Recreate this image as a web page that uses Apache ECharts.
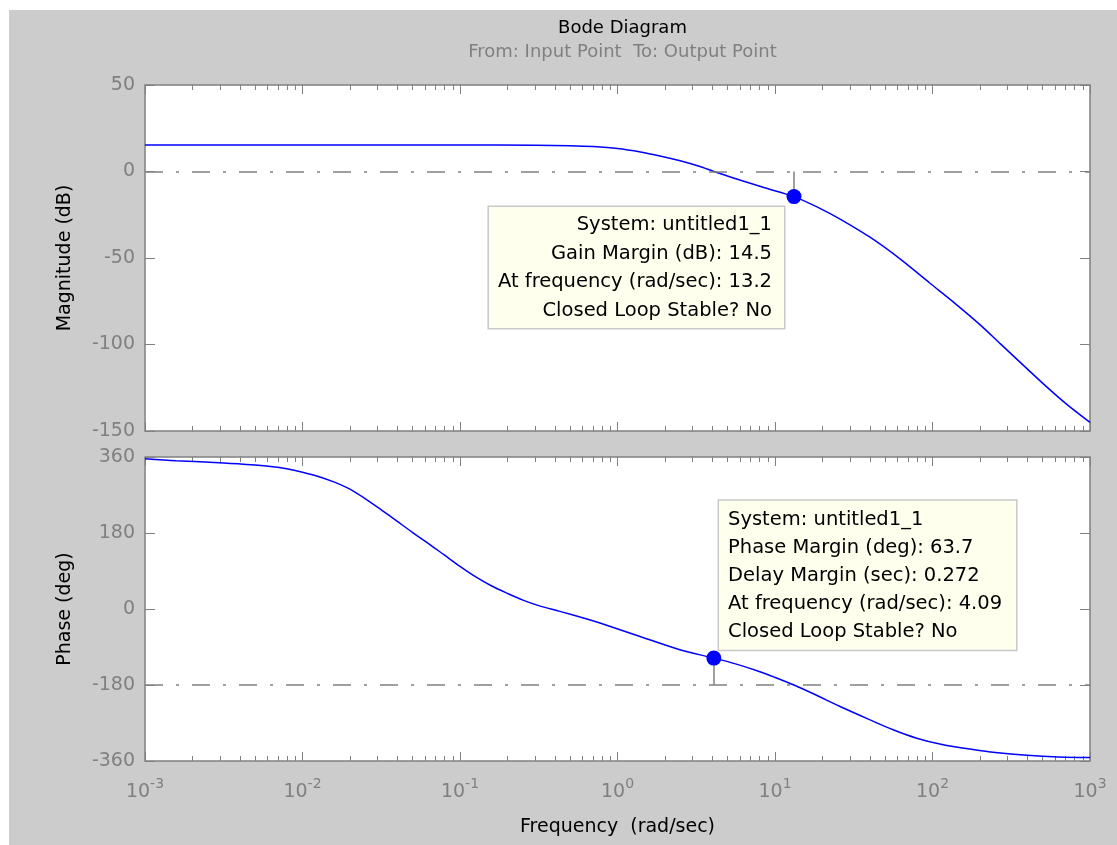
<!DOCTYPE html>
<html>
<head>
<meta charset="utf-8">
<script src="https://cdn.jsdelivr.net/npm/echarts@6/dist/echarts.min.js"></script>
<style>
html,body{margin:0;padding:0;background:#ffffff;}
#chart{position:absolute;left:9px;top:10px;width:1108px;height:835px;}
</style>
</head>
<body>
<div id="chart"></div>
<script>
// ---------- data ----------
const magFreq  = [0.001, 0.01, 0.1, 0.3, 0.5, 0.7, 1.0, 1.4, 1.86, 2.5, 3.34, 4.09, 5.57, 8.5, 13.2, 19, 25.9, 40.1, 62.2, 96.4, 140, 200, 269, 482, 700, 1000];
const magDb    = [15.3, 15.3, 15.3, 15.2, 14.9, 14.4, 13.3, 11.3, 9.0, 6.2, 2.9, 0, -4.0, -9.3, -14.5, -21, -27.5, -38, -50.5, -64.6, -76.5, -88.5, -99.5, -121, -134, -145];

const phaseFreq = [0.001, 0.00158, 0.00316, 0.00501, 0.0063, 0.00794, 0.01, 0.0126, 0.0158, 0.02, 0.0251, 0.0316, 0.0398, 0.0501, 0.0631, 0.0794, 0.1, 0.126, 0.158, 0.2, 0.251, 0.316, 0.431, 0.631, 0.774, 1.39, 2.49, 4.09, 5.62, 7.94, 10, 13.2, 17.8, 25.9, 39.8, 56.2, 79.4, 115, 181, 251, 398, 631, 1000];
const phaseDeg  = [356, 351, 346, 341, 337.5, 332, 324, 314, 301, 284, 261, 235, 208, 181, 155, 128, 101, 76, 55, 37, 21, 8, -5.6, -23, -33.1, -65, -96.5, -116.3, -130, -148, -162, -180, -202, -231, -262, -286, -306, -321, -333, -340, -346.5, -350.5, -352];

const decades    = [-3, -2, -1, 0, 1, 2, 3];          // x tick labels: 10^n
const magTicks   = [-150, -100, -50, 0, 50];
const phaseTicks = [-360, -180, 0, 180, 360];

const magRef   = 0;       // dB reference line
const phaseRef = -180;    // deg reference line

const gmFreq = 13.2, gmValue = 14.5, gmDb = -14.5;
const pmFreq = 4.09, pmValue = 63.7, pmDelay = 0.272, pmPhase = -116.3;
const sysName = 'untitled1_1';

const gmTip = ['System: ' + sysName, 'Gain Margin (dB): ' + gmValue, 'At frequency (rad/sec): ' + gmFreq, 'Closed Loop Stable? No'];
const pmTip = ['System: ' + sysName, 'Phase Margin (deg): ' + pmValue, 'Delay Margin (sec): ' + pmDelay, 'At frequency (rad/sec): ' + pmFreq, 'Closed Loop Stable? No'];

// ---------- chart ----------
const FONT = 'DejaVu Sans';
const GRAY = '#808080';
const lg = v => Math.log10(v);

const minorTicks = [];
for (let d = decades[0]; d < decades[decades.length - 1]; d++) {
  for (let k = 2; k <= 9; k++) minorTicks.push(d + Math.log10(k));
}

function xAx(grid, pos, minor, labels) {
  const ax = {
    type: 'value', gridIndex: grid, position: pos,
    min: decades[0], max: decades[decades.length - 1], interval: 1,
    axisLine: {show: false, onZero: false},
    splitLine: {show: false},
    axisTick: {show: true, inside: true, length: minor ? 5 : 9, lineStyle: {color: GRAY, width: 1}},
    axisLabel: {show: false}
  };
  if (minor) ax.axisTick.customValues = minorTicks;
  if (labels) {
    ax.axisLabel = {
      show: true, margin: 16, showMinLabel: true, showMaxLabel: true,
      formatter: v => '{b|10}{e|' + v + '}',
      rich: {
        b: {fontFamily: FONT, fontSize: 19, color: GRAY},
        e: {fontFamily: FONT, fontSize: 14, color: GRAY, padding: [0, 0, 16, 0]}
      }
    };
    ax.name = 'Frequency  (rad/sec)';
    ax.nameLocation = 'middle';
    ax.nameGap = 57;
    ax.nameTextStyle = {fontFamily: FONT, fontSize: 19, color: '#000'};
  }
  return ax;
}

function yAx(grid, pos, ticks, labels, name) {
  const ax = {
    type: 'value', gridIndex: grid, position: pos,
    min: ticks[0], max: ticks[ticks.length - 1], interval: ticks[1] - ticks[0],
    axisLine: {show: false, onZero: false},
    splitLine: {show: false},
    axisTick: {show: true, inside: true, length: 10, lineStyle: {color: GRAY, width: 1}},
    axisLabel: labels ? {show: true, fontFamily: FONT, fontSize: 19, color: GRAY, margin: 10, showMinLabel: true, showMaxLabel: true} : {show: false}
  };
  if (name) {
    ax.name = name;
    ax.nameLocation = 'middle';
    ax.nameGap = 70;
    ax.nameTextStyle = {fontFamily: FONT, fontSize: 19, color: '#000'};
  }
  return ax;
}

const dashDot = [18, 13, 3, 13];
const tipStyle = {
  show: true,
  fontFamily: FONT, fontSize: 19.5, color: '#000',
  backgroundColor: '#ffffee', borderColor: '#c8c8c8', borderWidth: 1.5
};

const chart = echarts.init(document.getElementById('chart'), null, {renderer: 'canvas'});
chart.setOption({
  animation: false,
  backgroundColor: '#cccccc',
  textStyle: {fontFamily: FONT},
  title: [
    {text: 'Bode Diagram', left: 608.5, top: 4, textAlign: 'center',
     textStyle: {fontFamily: FONT, fontSize: 18, fontWeight: 'normal', color: '#000'}},
    {text: 'From: Input Point  To: Output Point', left: 608.5, top: 28, textAlign: 'center',
     textStyle: {fontFamily: FONT, fontSize: 18, fontWeight: 'normal', color: GRAY}}
  ],
  grid: [
    {left: 136, top: 75, width: 945, height: 346, show: true, backgroundColor: '#ffffff', borderColor: GRAY, borderWidth: 1.5},
    {left: 136, top: 447, width: 945, height: 304, show: true, backgroundColor: '#ffffff', borderColor: GRAY, borderWidth: 1.5}
  ],
  xAxis: [
    xAx(0, 'bottom', false, false),
    xAx(0, 'top', false, false),
    xAx(0, 'bottom', true, false),
    xAx(0, 'top', true, false),
    xAx(1, 'bottom', false, true),
    xAx(1, 'top', false, false),
    xAx(1, 'bottom', true, false),
    xAx(1, 'top', true, false)
  ],
  yAxis: [
    yAx(0, 'left', magTicks, true, 'Magnitude (dB)'),
    yAx(0, 'right', magTicks, false, null),
    yAx(1, 'left', phaseTicks, true, 'Phase (deg)'),
    yAx(1, 'right', phaseTicks, false, null)
  ],
  series: [
    {
      type: 'line', xAxisIndex: 0, yAxisIndex: 0, z: 2, silent: true,
      data: magFreq.map((f, i) => [lg(f), magDb[i]]),
      showSymbol: false, smooth: 0.3,
      lineStyle: {color: '#0000ff', width: 1.5},
      markLine: {
        silent: true, symbol: 'none', label: {show: false},
        lineStyle: {color: GRAY, width: 1.5, type: dashDot},
        data: [
          {yAxis: magRef},
          [{coord: [lg(gmFreq), gmDb], lineStyle: {type: 'solid', color: GRAY, width: 1.5}}, {coord: [lg(gmFreq), magRef]}]
        ]
      }
    },
    {
      type: 'line', xAxisIndex: 4, yAxisIndex: 2, z: 2, silent: true,
      data: phaseFreq.map((f, i) => [lg(f), phaseDeg[i]]),
      showSymbol: false, smooth: 0.3,
      lineStyle: {color: '#0000ff', width: 1.5},
      markLine: {
        silent: true, symbol: 'none', label: {show: false},
        lineStyle: {color: GRAY, width: 1.5, type: dashDot},
        data: [
          {yAxis: phaseRef},
          [{coord: [lg(pmFreq), pmPhase], lineStyle: {type: 'solid', color: GRAY, width: 1.5}}, {coord: [lg(pmFreq), phaseRef]}]
        ]
      }
    },
    {
      type: 'scatter', xAxisIndex: 0, yAxisIndex: 0, z: 5, silent: true,
      data: [[lg(gmFreq), gmDb]],
      symbolSize: 15, itemStyle: {color: '#0000ff', opacity: 1},
      label: Object.assign({}, tipStyle, {
        position: [-2.5, 18], align: 'right', verticalAlign: 'top',
        lineHeight: 28.5, padding: [4, 12, 3, 9],
        formatter: gmTip.join('\n')
      })
    },
    {
      type: 'scatter', xAxisIndex: 4, yAxisIndex: 2, z: 5, silent: true,
      data: [[lg(pmFreq), pmPhase]],
      symbolSize: 15, itemStyle: {color: '#0000ff', opacity: 1},
      label: Object.assign({}, tipStyle, {
        position: [12.7, -0.8], align: 'left', verticalAlign: 'bottom',
        lineHeight: 28, padding: [5, 14, 4, 9],
        formatter: pmTip.join('\n')
      })
    }
  ]
});
</script>
</body>
</html>
